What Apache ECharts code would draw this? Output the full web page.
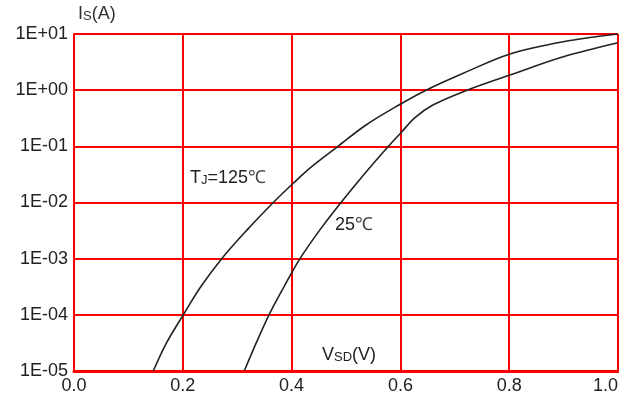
<!DOCTYPE html>
<html>
<head>
<meta charset="utf-8">
<script src="https://cdn.jsdelivr.net/npm/echarts@6/dist/echarts.min.js"></script>
<style>html,body{margin:0;padding:0;background:#fff;overflow:hidden;}#c{width:619px;height:396px;}</style>
</head>
<body>
<div id="c"></div>
<script>
// Data
var xTickLabels = ['0.0', '0.2', '0.4', '0.6', '0.8', '1.0'];
var yTickLabels = ['1E-05', '1E-04', '1E-03', '1E-02', '1E-01', '1E+00', '1E+01'];
var v125 = [0.1458, 0.170, 0.2009, 0.233, 0.2715, 0.317, 0.3664, 0.403, 0.4369, 0.4853, 0.5368, 0.6006, 0.6471, 0.7156, 0.8015, 0.8994, 1.000];
var i125 = [1e-5, 3.16e-5, 1e-4, 3.16e-4, 1e-3, 3.16e-3, 1e-2, 0.022, 0.0435, 0.1, 0.24, 0.568, 1.0, 2.0, 4.41, 7.29, 10];
var v25 = [0.313, 0.335, 0.3585, 0.386, 0.4154, 0.451, 0.4908, 0.533, 0.5772, 0.6006, 0.6268, 0.658, 0.7156, 0.8015, 0.8994, 1.000];
var i25 = [1e-5, 3.16e-5, 1e-4, 3.16e-4, 1e-3, 3.16e-3, 1e-2, 0.0316, 0.0986, 0.173, 0.324, 0.533, 0.94, 1.86, 3.94, 7.0];

function pairs(xs, ys) { return xs.map(function (x, i) { return [x, ys[i]]; }); }

var FONT = '"Liberation Sans", Arial, sans-serif';
var chart = echarts.init(document.getElementById('c'), null, { renderer: 'canvas', width: 619, height: 396 });
chart.setOption({
  animation: false,
  backgroundColor: '#ffffff',
  grid: { left: 74, right: 1, top: 34, bottom: 25, containLabel: false, outerBoundsMode: 'none' },
  xAxis: {
    type: 'value', min: 0, max: 1, interval: 0.2,
    axisLine: { show: true, lineStyle: { color: '#ff0000', width: 3 } },
    axisTick: { show: false },
    axisLabel: {
      color: '#222', fontSize: 18, fontFamily: FONT, margin: 6,
      alignMaxLabel: 'right',
      formatter: function (v) { return xTickLabels[Math.round(v / 0.2)]; }
    },
    splitLine: { show: true, lineStyle: { color: '#ff0000', width: 2 } }
  },
  yAxis: {
    type: 'log', logBase: 10, min: 1e-5, max: 10,
    axisLine: { show: true, onZero: false, lineStyle: { color: '#ff0000', width: 2 } },
    axisTick: { show: false },
    axisLabel: {
      color: '#222', fontSize: 18, fontFamily: FONT, margin: 6,
      formatter: function (v) { return yTickLabels[Math.round(Math.log10(v)) + 5]; }
    },
    splitLine: { show: true, lineStyle: { color: '#ff0000', width: 2 } },
    minorSplitLine: { show: false }
  },
  series: [
    { type: 'line', name: '125', data: pairs(v125, i125), showSymbol: false, smooth: 0.35,
      lineStyle: { color: '#222', width: 1.6 }, z: 5 },
    { type: 'line', name: '25', data: pairs(v25, i25), showSymbol: false, smooth: 0.35,
      lineStyle: { color: '#222', width: 1.6 }, z: 5 }
  ],
  graphic: [
    { type: 'text', left: 78, top: 5, z: 10,
      style: { text: '{b|I}{s|S}{b|(A)}', rich: {
        b: { fontSize: 18, fontFamily: FONT, fill: '#333' },
        s: { fontSize: 13, fontFamily: FONT, fill: '#333', padding: [5, 0, 0, 0] } } } },
    { type: 'text', left: 190, top: 169, z: 10,
      style: { text: '{b|T}{s|J}{b|=125}{c|℃}', rich: {
        b: { fontSize: 18, fontFamily: FONT, fill: '#222' },
        s: { fontSize: 13, fontFamily: FONT, fill: '#222', padding: [5, 0, 0, 0] },
        c: { fontSize: 18, fontFamily: FONT, fill: '#444' } } } },
    { type: 'text', left: 335, top: 216, z: 10,
      style: { text: '{b|25}{c|℃}', rich: {
        b: { fontSize: 18, fontFamily: FONT, fill: '#222' },
        c: { fontSize: 18, fontFamily: FONT, fill: '#444' } } } },
    { type: 'text', left: 322, top: 346, z: 10,
      style: { text: '{b|V}{s|SD}{b|(V)}', rich: {
        b: { fontSize: 18, fontFamily: FONT, fill: '#222' },
        s: { fontSize: 13, fontFamily: FONT, fill: '#222', padding: [5, 0, 0, 0] } } } }
  ]
});
</script>
</body>
</html>
